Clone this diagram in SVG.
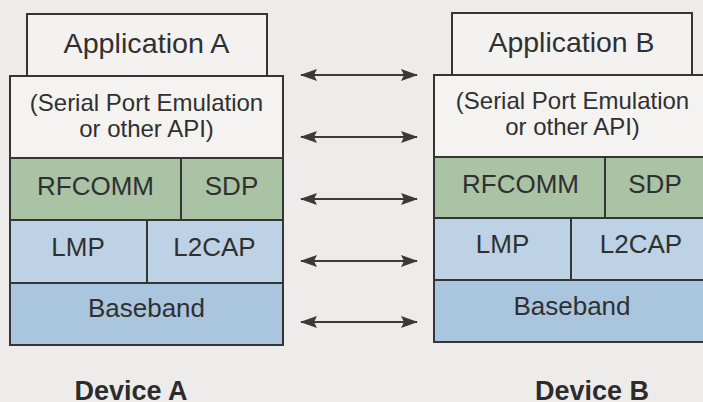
<svg xmlns="http://www.w3.org/2000/svg" width="703" height="402" viewBox="0 0 703 402">
  <style>
    .box { stroke: #353535; stroke-width: 2; }
    .app { fill: #f3f2f0; }
    .api { fill: #f4f3f1; }
    .green { fill: #a9c3a4; }
    .lblue { fill: #bdd2e4; }
    .blue { fill: #aac6df; }
    .div { stroke: #353535; stroke-width: 2; }
    text { font-family: "Liberation Sans", Arial, sans-serif; fill: #303030; text-anchor: middle; }
    .t26 { font-size: 26px; }
    .t24 { font-size: 24px; }
    .t28 { font-size: 28px; }
    .dev { font-size: 27px; font-weight: bold; fill: #2c2c2c; }
    .conn { stroke: #3a3a3a; stroke-width: 2.2; fill: none; marker-start: url(#head); marker-end: url(#head); }
  </style>
  <defs>
    <marker id="head" viewBox="0 0 17 12" refX="16" refY="6" markerWidth="17" markerHeight="12" markerUnits="userSpaceOnUse" orient="auto-start-reverse">
      <path d="M0,0 L17,6 L0,12 L3,6 Z" fill="#3a3a3a"/>
    </marker>
  </defs>

  <rect width="703" height="402" fill="#eeecea"/>

  <!-- Device A stack -->
  <g id="device-a">
    <g id="app-a">
      <rect class="box app" x="27" y="14" width="240" height="62"/>
      <text class="t28" x="146.5" y="53" textLength="166" lengthAdjust="spacingAndGlyphs">Application A</text>
    </g>
    <g id="api-a">
      <rect class="box api" x="10" y="76" width="273" height="82"/>
      <text class="t24" x="146.5" y="111">(Serial Port Emulation</text>
      <text class="t24" x="146.5" y="137">or other API)</text>
    </g>
    <g id="rfcomm-a">
      <rect class="box green" x="10" y="158" width="273" height="62"/>
      <line class="div" x1="181" y1="158" x2="181" y2="220"/>
      <text class="t26" x="95.5" y="195">RFCOMM</text>
      <text class="t26" x="231.5" y="195">SDP</text>
    </g>
    <g id="lmp-a">
      <rect class="box lblue" x="10" y="220" width="273" height="63"/>
      <line class="div" x1="147" y1="220" x2="147" y2="283"/>
      <text class="t26" x="78" y="256">LMP</text>
      <text class="t26" x="214.5" y="256">L2CAP</text>
    </g>
    <g id="baseband-a">
      <rect class="box blue" x="10" y="283" width="273" height="62"/>
      <text class="t26" x="146.5" y="317">Baseband</text>
    </g>
    <text class="dev" x="131" y="400">Device A</text>
  </g>

  <!-- Device B stack -->
  <g id="device-b">
    <g id="app-b">
      <rect class="box app" x="452" y="13" width="240" height="62"/>
      <text class="t28" x="571.5" y="52" textLength="166" lengthAdjust="spacingAndGlyphs">Application B</text>
    </g>
    <g id="api-b">
      <rect class="box api" x="434" y="75" width="280" height="82"/>
      <text class="t24" x="572.5" y="109">(Serial Port Emulation</text>
      <text class="t24" x="572.5" y="135">or other API)</text>
    </g>
    <g id="rfcomm-b">
      <rect class="box green" x="434" y="157" width="280" height="61"/>
      <line class="div" x1="605" y1="157" x2="605" y2="218"/>
      <text class="t26" x="520.5" y="193">RFCOMM</text>
      <text class="t26" x="655" y="193">SDP</text>
    </g>
    <g id="lmp-b">
      <rect class="box lblue" x="434" y="218" width="280" height="62"/>
      <line class="div" x1="571" y1="218" x2="571" y2="280"/>
      <text class="t26" x="502.5" y="253">LMP</text>
      <text class="t26" x="641" y="253">L2CAP</text>
    </g>
    <g id="baseband-b">
      <rect class="box blue" x="434" y="280" width="280" height="62"/>
      <text class="t26" x="572" y="315">Baseband</text>
    </g>
    <text class="dev" x="592" y="400">Device B</text>
  </g>

  <!-- Peer-to-peer links between layers -->
  <g id="connectors">
    <line class="conn" x1="301" y1="75" x2="417" y2="75"/>
    <line class="conn" x1="301" y1="137" x2="417" y2="137"/>
    <line class="conn" x1="301" y1="199" x2="417" y2="199"/>
    <line class="conn" x1="301" y1="261" x2="417" y2="261"/>
    <line class="conn" x1="301" y1="322" x2="417" y2="322"/>
  </g>
</svg>
